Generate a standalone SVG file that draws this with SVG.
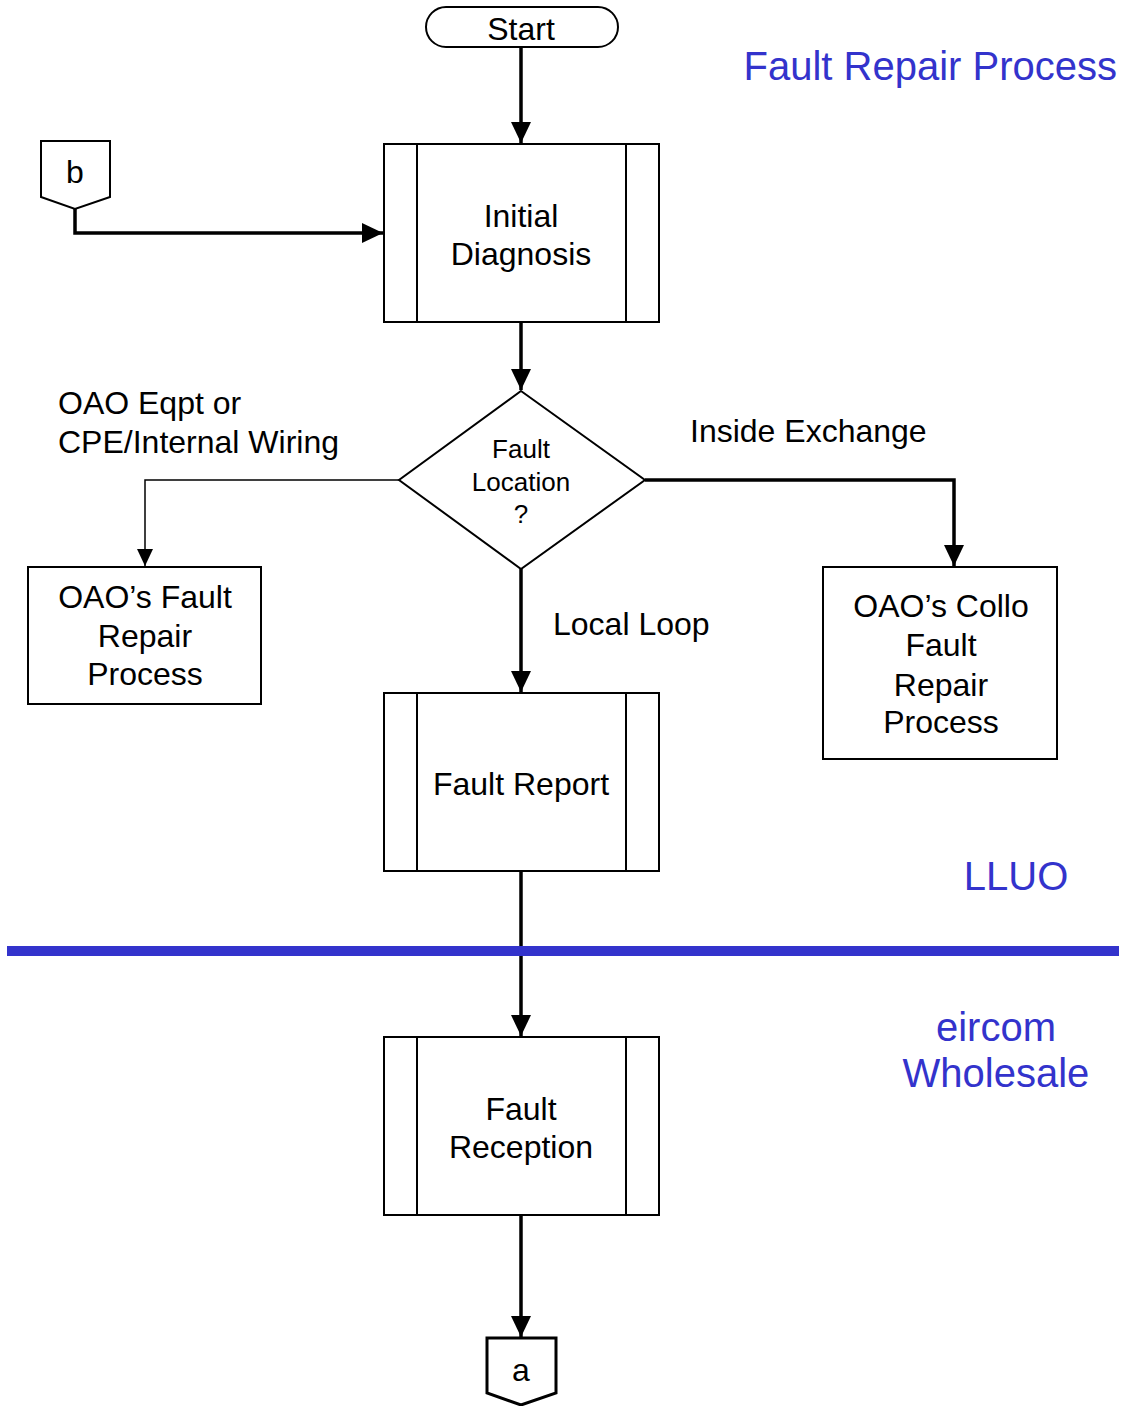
<svg xmlns="http://www.w3.org/2000/svg" width="1122" height="1406" viewBox="0 0 1122 1406">
  <style>
    .shape { fill: #ffffff; stroke: #000000; stroke-width: 2; }
    .bar { fill: none; stroke: #000000; stroke-width: 2; }
    .conn { fill: none; stroke: #000000; stroke-width: 3.5; }
    .conn-thin { fill: none; stroke: #000000; stroke-width: 1.5; }
    .lbl { font-family: "Liberation Sans", Arial, sans-serif; font-size: 32px; fill: #000000; }
    .mid { text-anchor: middle; }
    .small { font-size: 26px; }
    .zone { font-family: "Liberation Sans", Arial, sans-serif; font-size: 40px; fill: #3333cc; }
  </style>
  <defs>
    <marker id="arrow" markerUnits="userSpaceOnUse" markerWidth="22" markerHeight="22" viewBox="0 0 22 22" refX="21" refY="11" orient="auto">
      <path d="M0,1 L21,11 L0,21 Z" fill="#000000"/>
    </marker>
    <marker id="arrow-sm" markerUnits="userSpaceOnUse" markerWidth="18" markerHeight="18" viewBox="0 0 18 18" refX="17" refY="9" orient="auto">
      <path d="M0,1 L17,9 L0,17 Z" fill="#000000"/>
    </marker>
  </defs>

  <rect width="1122" height="1406" fill="#ffffff"/>

  <!-- connectors -->
  <g id="connectors">
    <line class="conn" x1="521" y1="47" x2="521" y2="143" marker-end="url(#arrow)"/>
    <polyline class="conn" points="75,209 75,233 383,233" marker-end="url(#arrow)"/>
    <line class="conn" x1="521" y1="322" x2="521" y2="390" marker-end="url(#arrow)"/>
    <polyline class="conn-thin" points="399,480 145,480 145,566" marker-end="url(#arrow-sm)"/>
    <polyline class="conn" points="645,480 954,480 954,566" marker-end="url(#arrow)"/>
    <line class="conn" x1="521" y1="569" x2="521" y2="692" marker-end="url(#arrow)"/>
    <line class="conn" x1="521" y1="871" x2="521" y2="1036" marker-end="url(#arrow)"/>
    <line class="conn" x1="521" y1="1215" x2="521" y2="1337" marker-end="url(#arrow)"/>
  </g>

  <!-- boundary between LLUO and eircom Wholesale -->
  <rect x="7" y="946" width="1112" height="10" fill="#3333cc"/>

  <!-- branch labels -->
  <g id="branch-labels">
    <text class="lbl" x="58" y="414">OAO Eqpt or</text>
    <text class="lbl" x="58" y="453">CPE/Internal Wiring</text>
    <text class="lbl" x="690" y="442">Inside Exchange</text>
    <text class="lbl" x="553" y="635">Local Loop</text>
  </g>

  <!-- zone titles -->
  <text class="zone" x="1117" y="80" text-anchor="end">Fault Repair Process</text>
  <text class="zone mid" x="1016" y="890">LLUO</text>
  <text class="zone mid" x="996" y="1041">eircom</text>
  <text class="zone mid" x="996" y="1087">Wholesale</text>

  <g id="start">
    <rect class="shape" x="426" y="7" width="192" height="40" rx="20" ry="20"/>
    <text class="lbl mid" x="521" y="40">Start</text>
  </g>

  <g id="connector-b">
    <polygon class="shape" points="41,141 110,141 110,197 75,209 41,197"/>
    <text class="lbl mid" x="75" y="183">b</text>
  </g>

  <g id="initial-diagnosis">
    <rect class="shape" x="384" y="144" width="275" height="178"/>
    <line class="bar" x1="417" y1="144" x2="417" y2="322"/>
    <line class="bar" x1="626" y1="144" x2="626" y2="322"/>
    <text class="lbl mid" x="521" y="227">Initial</text>
    <text class="lbl mid" x="521" y="265">Diagnosis</text>
  </g>

  <g id="fault-location">
    <polygon class="shape" points="521,391 645,480 521,569 399,480"/>
    <text class="lbl small mid" x="521" y="458">Fault</text>
    <text class="lbl small mid" x="521" y="491">Location</text>
    <text class="lbl small mid" x="521" y="523">?</text>
  </g>

  <g id="oao-fault-repair">
    <rect class="shape" x="28" y="567" width="233" height="137"/>
    <text class="lbl mid" x="145" y="608">OAO’s Fault</text>
    <text class="lbl mid" x="145" y="647">Repair</text>
    <text class="lbl mid" x="145" y="685">Process</text>
  </g>

  <g id="oao-collo-fault-repair">
    <rect class="shape" x="823" y="567" width="234" height="192"/>
    <text class="lbl mid" x="941" y="617">OAO’s Collo</text>
    <text class="lbl mid" x="941" y="656">Fault</text>
    <text class="lbl mid" x="941" y="696">Repair</text>
    <text class="lbl mid" x="941" y="733">Process</text>
  </g>

  <g id="fault-report">
    <rect class="shape" x="384" y="693" width="275" height="178"/>
    <line class="bar" x1="417" y1="693" x2="417" y2="871"/>
    <line class="bar" x1="626" y1="693" x2="626" y2="871"/>
    <text class="lbl mid" x="521" y="795">Fault Report</text>
  </g>

  <g id="fault-reception">
    <rect class="shape" x="384" y="1037" width="275" height="178"/>
    <line class="bar" x1="417" y1="1037" x2="417" y2="1215"/>
    <line class="bar" x1="626" y1="1037" x2="626" y2="1215"/>
    <text class="lbl mid" x="521" y="1120">Fault</text>
    <text class="lbl mid" x="521" y="1158">Reception</text>
  </g>

  <g id="connector-a">
    <polygon class="shape" style="stroke-width:3" points="487,1338 556,1338 556,1393 521,1405 487,1393"/>
    <text class="lbl mid" x="521" y="1381">a</text>
  </g>
</svg>
